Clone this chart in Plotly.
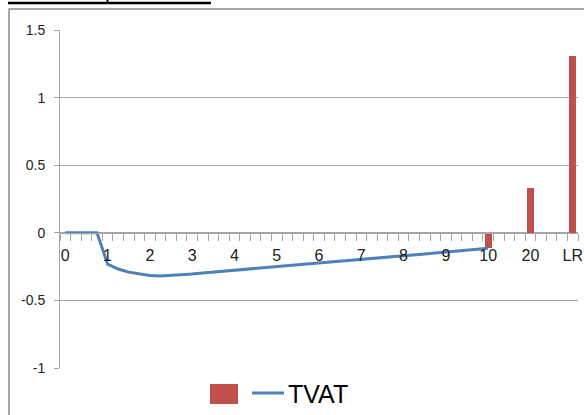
import numpy as np
import plotly.graph_objects as go

# Category axis labels (every fourth slot carries a label)
tick_labels = ["0", "1", "2", "3", "4", "5", "6", "7", "8", "9", "10", "20", "LR"]

# TVAT curve, sampled every quarter step from 0 to 10
tvat_values = [
    0.0, 0.0, 0.0, 0.0,
    -0.232, -0.268, -0.291, -0.306,
    -0.316, -0.320, -0.316, -0.311,
    -0.305, -0.297, -0.290, -0.283,
    -0.276, -0.269, -0.262, -0.255,
    -0.249, -0.242, -0.235, -0.229,
    -0.222, -0.215, -0.209, -0.203,
    -0.197, -0.190, -0.183, -0.176,
    -0.169, -0.162, -0.156, -0.150,
    -0.144, -0.137, -0.130, -0.123,
    -0.115,
]

# Column series at the last three labelled categories
bar_cats = ["10", "20", "LR"]
bar_values = [-0.115, 0.335, 1.305]

y_tick_vals = [-1, -0.5, 0, 0.5, 1, 1.5]
y_tick_text = ["-1", "-0.5", "0", "0.5", "1", "1.5"]

BLUE = "#4F81BD"
RED = "#C0504D"
GRID = "#a6a6a6"

line_x = np.arange(len(tvat_values)) * 0.25
bar_x = [tick_labels.index(c) for c in bar_cats]
x_range = [-0.125, len(tick_labels) - 0.875]

fig = go.Figure()
fig.add_trace(go.Bar(
    x=bar_x, y=bar_values, width=0.17,
    marker=dict(color=RED, line=dict(width=0)),
    showlegend=False,
))
fig.add_trace(go.Scatter(
    x=line_x, y=tvat_values, mode="lines",
    line=dict(color=BLUE, width=3),
    name="TVAT", showlegend=False,
))
# empty trace that carries the secondary axis with the small category ticks
fig.add_trace(go.Scatter(x=[None], y=[None], xaxis="x2", showlegend=False, hoverinfo="skip"))

# plot area geometry in pixels
L, R, T, B = 60, 578, 30, 368
W, H = R - L, B - T


def px(xp):
    return (xp - L) / W


def py(yp):
    return (B - yp) / H


shapes = [
    # chart frame
    dict(type="rect", xref="paper", yref="paper",
         x0=px(9), x1=px(700), y0=py(9), y1=py(600),
         line=dict(color="#8a8a8a", width=1.5), layer="below"),
    # underline of the heading above the chart
    dict(type="line", xref="paper", yref="paper",
         x0=px(8), x1=px(211), y0=py(3), y1=py(3),
         line=dict(color="black", width=2.5)),
    dict(type="line", xref="paper", yref="paper",
         x0=px(107.5), x1=px(107.5), y0=py(-2), y1=py(3),
         line=dict(color="black", width=2)),
    # legend keys
    dict(type="rect", xref="paper", yref="paper",
         x0=px(210), x1=px(238), y0=py(384), y1=py(404),
         line=dict(width=0), fillcolor=RED),
    dict(type="line", xref="paper", yref="paper",
         x0=px(252), x1=px(284), y0=py(393), y1=py(393),
         line=dict(color=BLUE, width=3)),
]

fig.update_layout(
    width=584, height=415,
    margin=dict(l=L, r=584 - R, t=T, b=415 - B),
    paper_bgcolor="white", plot_bgcolor="white",
    font=dict(family="Liberation Sans", color="#222"),
    showlegend=False,
    bargap=0,
    shapes=shapes,
    annotations=[dict(
        xref="paper", yref="paper", x=px(286), y=py(394),
        xanchor="left", yanchor="middle", showarrow=False,
        text="TVAT",
        font=dict(family="Liberation Sans", size=25, color="black"),
    )],
    xaxis=dict(
        range=x_range, automargin=False,
        tickmode="array", tickvals=list(range(len(tick_labels))), ticktext=tick_labels,
        ticks="outside", ticklen=8, tickcolor="rgba(0,0,0,0)",
        tickfont=dict(family="Liberation Sans", size=16, color="#222"),
        showgrid=False, zeroline=False,
        showline=True, linecolor=GRID, linewidth=1,
        anchor="free", position=0.4,
    ),
    xaxis2=dict(
        range=x_range, automargin=False, overlaying="x",
        tickmode="linear", tick0=-0.125, dtick=0.25,
        ticks="outside", ticklen=7, tickcolor=GRID, tickwidth=1,
        showticklabels=False, showgrid=False, zeroline=False, showline=False,
        anchor="free", position=0.4, side="bottom",
    ),
    yaxis=dict(
        range=[-1, 1.5], automargin=False,
        tickmode="array", tickvals=y_tick_vals, ticktext=y_tick_text,
        ticks="outside", ticklen=5, tickcolor=GRID,
        tickfont=dict(family="Liberation Sans", size=14, color="#222"),
        showgrid=True, gridcolor=GRID, gridwidth=1,
        zeroline=False, showline=True, linecolor=GRID, linewidth=1,
        ticklabelstandoff=6,
    ),
)

fig.write_html("out.html")
